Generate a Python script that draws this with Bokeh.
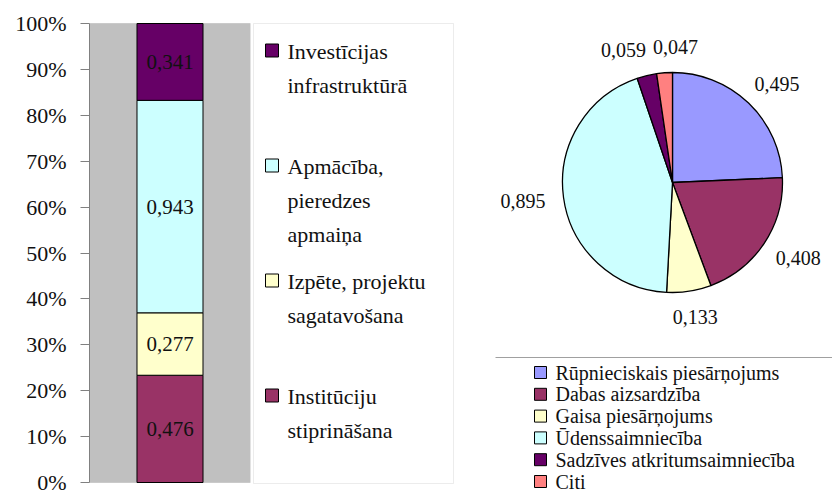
import math
from bokeh.plotting import figure
from bokeh.layouts import row
from bokeh.models import (Range1d, FactorRange, FixedTicker, NumeralTickFormatter,
                          ColumnDataSource, BoxAnnotation)
from bokeh.core.properties import value
from bokeh.embed import file_html
from bokeh.resources import INLINE

FONT = "'Liberation Serif', 'Times New Roman', serif"

# ---------------- data ----------------
bar_categories = ["Institūciju stiprināšana", "Izpēte, projektu sagatavošana",
                  "Apmācība, pieredzes apmaiņa", "Investīcijas infrastruktūrā"]
bar_legend_labels = ["Investīcijas\ninfrastruktūrā", "Apmācība,\npieredzes\napmaiņa",
                     "Izpēte, projektu\nsagatavošana", "Institūciju\nstiprināšana"]
bar_values = [0.476, 0.277, 0.943, 0.341]
bar_colors = ["#993366", "#FFFFCC", "#CCFFFF", "#660066"]
y_ticks = [0.0, 0.1, 0.2, 0.3, 0.4, 0.5, 0.6, 0.7, 0.8, 0.9, 1.0]

pie_categories = ["Rūpnieciskais piesārņojums", "Dabas aizsardzība", "Gaisa piesārņojums",
                  "Ūdenssaimniecība", "Sadzīves atkritumsaimniecība", "Citi"]
pie_values = [0.495, 0.408, 0.133, 0.895, 0.059, 0.047]
pie_colors = ["#9999FF", "#993366", "#FFFFCC", "#CCFFFF", "#660066", "#FF8080"]

H = 495          # figure height (px)
PLOT_TOP = 23    # plot-area top (px from figure top)
PLOT_BOT = 482   # plot-area bottom


def fmt(v):
    return f"{v:.3f}".replace(".", ",")


# ---------------- 100% stacked bar ----------------
total_bar = sum(bar_values)
fracs = [v / total_bar for v in bar_values]
keys = [f"s{i}" for i in range(len(bar_values))]
src = {"cat": [""]}
for k, f in zip(keys, fracs):
    src[k] = [f]

ph = PLOT_BOT - PLOT_TOP
pa = figure(width=252, height=H, output_backend="svg", toolbar_location=None, title=None,
            x_range=FactorRange(""),
            y_range=Range1d(-(H - PLOT_BOT) / ph, 1 + PLOT_TOP / ph),
            min_border_left=89, min_border_right=2, min_border_top=0, min_border_bottom=0)
pa.background_fill_color = "white"
pa.border_fill_color = "white"
pa.outline_line_color = None
pa.xgrid.visible = False
pa.ygrid.visible = False
pa.xaxis.visible = False
pa.add_layout(BoxAnnotation(bottom=0, top=1, fill_color="#C0C0C0", fill_alpha=1,
                            line_color="#9A9A9A", line_width=1, level="underlay"))
pa.vbar_stack(keys, x="cat", width=0.41, color=bar_colors, line_color="black",
              line_width=1, source=ColumnDataSource(src))

cum = 0
mids = []
for f in fracs:
    mids.append(cum + f / 2)
    cum += f
pa.text(x=[""] * len(bar_values), y=mids, text=[fmt(v) for v in bar_values],
        text_align="center", text_baseline="middle", text_font=value(FONT),
        text_font_size="21px", text_color="#111111")

ya = pa.yaxis[0]
ya.bounds = (0, 1)
ya.ticker = FixedTicker(ticks=y_ticks)
ya.formatter = NumeralTickFormatter(format="0%")
ya.major_label_text_font = FONT
ya.major_label_text_font_size = "22px"
ya.major_label_text_color = "#111111"
ya.axis_line_color = "#808080"
ya.major_tick_line_color = "#808080"
ya.major_tick_out = 9
ya.major_tick_in = 0
ya.minor_tick_line_color = None
ya.major_label_standoff = 14

# ---------------- left legend ----------------
pb = figure(width=218, height=H, output_backend="svg", toolbar_location=None, title=None,
            x_range=Range1d(0, 218), y_range=Range1d(H, 0), min_border=0)
pb.axis.visible = False
pb.grid.visible = False
pb.outline_line_color = None
pb.background_fill_color = "white"
box_l, box_r, box_t, box_b = 1, 201, PLOT_TOP, PLOT_BOT + 1
pb.add_layout(BoxAnnotation(left=box_l, right=box_r, top=box_t, bottom=box_b,
                            fill_alpha=0, line_color="#C0C0C0", line_width=1))
n_b = len(bar_legend_labels)
slot = (box_b - box_t) / n_b
centers_b = [box_t + slot * i + 27 for i in range(n_b)]
pb.scatter(x=[box_l + 18.5] * n_b, y=centers_b, marker="square", size=13,
           fill_color=list(reversed(bar_colors)), line_color="black", line_width=1)
pb.text(x=[box_l + 34] * n_b, y=[c - 12 for c in centers_b], text=bar_legend_labels,
        text_align="left", text_baseline="top", text_font=value(FONT),
        text_font_size="22px", text_line_height=1.36, text_color="#111111")

# ---------------- pie ----------------
pc = figure(width=362, height=H, output_backend="svg", toolbar_location=None, title=None,
            x_range=Range1d(-202, 160), y_range=Range1d(-(H - 182), 182),
            min_border=0)
pc.axis.visible = False
pc.grid.visible = False
pc.outline_line_color = None
pc.background_fill_color = "white"

R = 110
total_pie = sum(pie_values)
starts, ends, mids_a = [], [], []
acc = 0
for v in pie_values:
    a0 = math.pi / 2 - acc / total_pie * 2 * math.pi
    acc += v
    a1 = math.pi / 2 - acc / total_pie * 2 * math.pi
    starts.append(a0)
    ends.append(a1)
    mids_a.append((a0 + a1) / 2)
pc.wedge(x=0, y=0, radius=R, start_angle=starts, end_angle=ends, direction="clock",
         fill_color=pie_colors, line_color="black", line_width=1.3)

# label positions (outside, with simple collision avoidance)
lw, lh, lr = 46, 16, 128
lx = [(lr + lw / 2) * math.cos(a) for a in mids_a]
ly = [(lr + lh / 2) * math.sin(a) for a in mids_a]
for i in range(len(lx)):
    for j in range(i + 1, len(lx)):
        dx = lx[j] - lx[i]
        if abs(dx) < lw + 6 and abs(ly[j] - ly[i]) < lh + 4:
            push = (lw + 6 - abs(dx)) / 2
            s = 1 if dx >= 0 else -1
            lx[i] -= s * push
            lx[j] += s * push
pc.text(x=lx, y=ly, text=[fmt(v) for v in pie_values], text_align="center",
        text_baseline="middle", text_font=value(FONT), text_font_size="20px",
        text_color="#111111")

# pie legend
pc.segment(x0=[-177], y0=[-175], x1=[160], y1=[-175], line_color="#A0A0A0", line_width=1)
n_c = len(pie_categories)
rows_y = [-190 - 21.8 * i for i in range(n_c)]
pc.scatter(x=[-132] * n_c, y=rows_y, marker="square", size=12,
           fill_color=pie_colors, line_color="black", line_width=1)
pc.text(x=[-117] * n_c, y=rows_y, text=pie_categories, text_align="left",
        text_baseline="middle", text_font=value(FONT), text_font_size="20px",
        text_color="#111111")

layout = row(pa, pb, pc)
open("out.html", "w").write(file_html(layout, INLINE))
